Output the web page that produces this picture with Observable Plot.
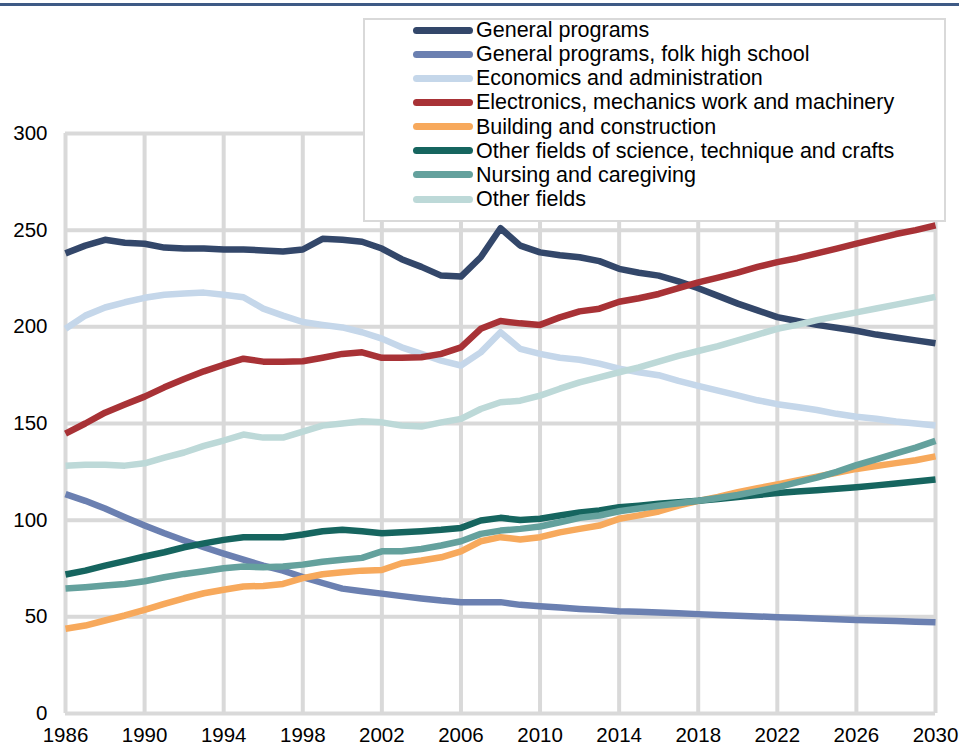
<!DOCTYPE html>
<html>
<head>
<meta charset="utf-8">
<script src="https://cdn.jsdelivr.net/npm/d3@7"></script>
<script src="https://cdn.jsdelivr.net/npm/@observablehq/plot@0.6"></script>
<style>
  html, body { margin: 0; padding: 0; background: #fff; }
  #wrap { position: relative; width: 959px; height: 745px; font-family: "Liberation Sans", Arial, sans-serif; }
  #topbar { position: absolute; left: 0; top: 3px; width: 959px; height: 3px; background: #3e5a85; }
  #legend { position: absolute; left: 363px; top: 18px; width: 583px; height: 204px; box-sizing: border-box;
            border: 2px solid #d9d9d9; background: #fff; }
  .sw { position: absolute; left: 413px; width: 60px; height: 7px; border-radius: 3.5px; }
  .lt { position: absolute; left: 476px; font-size: 21.5px; line-height: 24px; color: #000; white-space: nowrap; }
  #chart { position: absolute; left: 0; top: 0; }
</style>
</head>
<body>
<div id="wrap">
  <div id="chart"></div>
  <div id="topbar"></div>
  <div id="legend"></div>
</div>
<script>
const years = d3.range(1986, 2031);
const seriesNames = [
  "General programs",
  "General programs, folk high school",
  "Economics and administration",
  "Electronics, mechanics work and machinery",
  "Building and construction",
  "Other fields of science, technique and crafts",
  "Nursing and caregiving",
  "Other fields"
];
const seriesColors = ["#33476a", "#6b80b1", "#c5d7ea", "#a83236", "#f7a95c", "#16655f", "#64a19d", "#bdd9d8"];

const generalPrograms = [238,242,245,243.5,243,241,240.5,240.5,240,240,
  239.5,239,240,245.5,245,244,240.5,235,231,226.5,
  226,236,251,242,238.5,237,236,234,230,228,
  226.5,223.5,220,216,212,208.5,205,203,201,199.5,
  198,196,194.5,193,191.5];
const folkHighSchool = [113.5,110,106,101.5,97.2,93.2,89.5,86,82.7,79.6,
  76.5,73.9,70.5,67.5,64.6,63.2,62,60.7,59.5,58.4,
  57.6,57.6,57.6,56.2,55.5,54.8,54.1,53.6,52.9,52.6,
  52.2,51.8,51.4,51,50.6,50.2,49.8,49.5,49.1,48.8,
  48.4,48.1,47.8,47.5,47.2];
const economics = [199,205.8,210,212.7,215,216.6,217.3,217.7,216.6,215.3,
  209.4,205.8,202.5,201,199.7,197.2,193.9,189.4,186,182.5,
  180,186.8,197.2,188.6,186,184,183,181,178.4,176.5,
  175,172,169.5,167,164.5,162,160,158.5,157,155,
  153.5,152.5,151,150,149];
const electronics = [144.8,150,155.6,159.8,163.9,168.7,173,177,180.4,183.5,
  182,182,182.2,184,186,186.8,184,184,184.3,186,
  189.4,199,203,201.8,201,204.9,208,209.4,213,214.8,
  217,220,223,225.5,228,231,233.5,235.5,238,240.5,
  243,245.5,248,250,252.5];
const building = [43.8,45.5,48.1,50.7,53.6,56.7,59.6,62.2,64,65.7,
  66,67,70,72,73.1,73.9,74.2,77.7,79.1,80.8,
  83.9,89.1,91.2,90,91.2,93.7,95.5,97.2,100.7,102.5,
  104.5,107.5,110,112,114.5,116.5,118.5,120.5,122.5,124.5,
  126.5,128,129.5,131,133];
const otherScience = [71.9,73.9,76.5,78.8,81.2,83.4,86,88,89.8,91.2,
  91.2,91.2,92.6,94.3,95,94.3,93.2,93.7,94.3,95,
  96,99.8,101.2,100.1,100.7,102.4,104,105,106.7,107.5,
  108.5,109.3,110,111,112,113,114,114.8,115.5,116.2,
  117,118,119,120,121];
const nursing = [64.6,65.3,66.2,67,68.4,70.5,72.2,73.6,75.1,76,
  75.6,76,77,78.5,79.5,80.5,83.9,83.9,85.1,86.9,
  89.1,92.9,94.6,95.5,96.7,98.9,101.2,102.4,104.6,106,
  107.5,108.8,110,111.5,113,115,117,119.5,122,125,
  128.5,131.5,134.5,137.5,141];
const otherFields = [128.2,128.7,128.7,128.2,129.4,132.3,135,138.4,141.2,144.3,
  142.7,142.7,145.8,148.9,150,151.2,150.6,148.9,148.4,150.6,
  152.4,157.5,161,161.8,164.4,168,171.3,173.9,176.5,179,
  182,185,187.5,190,193,196,199,201,203.5,205.5,
  207.5,209.5,211.5,213.5,215.5];

const xTicks = d3.range(1986, 2031, 4);
const yTicks = [0, 50, 100, 150, 200, 250, 300];

const seriesValues = [generalPrograms, folkHighSchool, economics, electronics, building, otherScience, nursing, otherFields];
const rows = seriesNames.flatMap((name, i) => years.map((yr, j) => ({series: name, year: yr, value: seriesValues[i][j]})));

const chart = Plot.plot({
  width: 959,
  height: 745,
  marginLeft: 65,
  marginRight: 24,
  marginTop: 133,
  marginBottom: 32,
  style: {fontFamily: '"Liberation Sans", Arial, sans-serif', fontSize: "20.5px", color: "#000", background: "transparent"},
  x: {domain: [1986, 2030], label: null},
  y: {domain: [0, 300], label: null},
  color: {domain: seriesNames, range: seriesColors},
  marks: [
    Plot.gridX(xTicks, {stroke: "#d9d9d9", strokeOpacity: 1, strokeWidth: 4}),
    Plot.gridY(yTicks, {stroke: "#d9d9d9", strokeOpacity: 1, strokeWidth: 4}),
    Plot.line(rows, {x: "year", y: "value", z: "series", stroke: "series", strokeWidth: 6.5, strokeLinecap: "butt", strokeLinejoin: "round"}),
    Plot.axisX(xTicks, {tickSize: 0, tickPadding: 14, tickFormat: d => String(d), fill: "#000", label: null}),
    Plot.axisY(yTicks, {tickSize: 0, tickPadding: 18, fill: "#000", label: null})
  ]
});
document.getElementById("chart").appendChild(chart);

const wrap = document.getElementById("wrap");
const legendCenters = seriesNames.map((_, i) => 30 + i * 24.15);
seriesNames.forEach((name, i) => {
  const c = legendCenters[i];
  const sw = document.createElement("div");
  sw.className = "sw";
  sw.style.top = (c - 3.5) + "px";
  sw.style.background = seriesColors[i];
  wrap.appendChild(sw);
  const t = document.createElement("div");
  t.className = "lt";
  t.style.top = (c - 12) + "px";
  t.textContent = name;
  wrap.appendChild(t);
});
</script>
</body>
</html>
